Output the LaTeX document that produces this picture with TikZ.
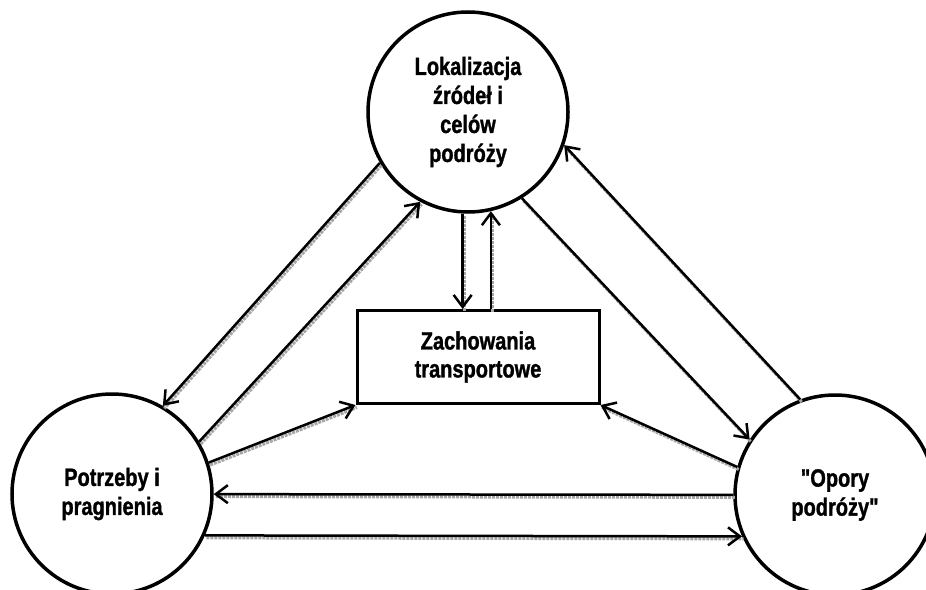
\documentclass[tikz,border=0pt]{standalone}
\usepackage{fontspec}
\newfontfamily\etyk{Liberation Sans Bold}[FakeStretch=0.8, FakeBold=1.2]
\usepackage{tikz}
\usetikzlibrary{arrows.meta}

\tikzset{
  krag/.style={draw, circle, line width=3.5pt, minimum size=200pt, inner sep=0pt,
    align=center, font=\etyk\fontsize{25}{29}\selectfont},
  prost/.style={draw, rectangle, line width=3pt, minimum width=242pt, minimum height=93pt,
    align=center, font=\etyk\fontsize{25}{28}\selectfont},
  strz/.style={line width=2.5pt, -{Straight Barb[length=12pt,width=18pt,line width=2.5pt]},
    preaction={draw, black!35, densely dotted, line width=3pt, -,
      transform canvas={xshift=1.5pt, yshift=-2.5pt}}}
}

\begin{document}
\begin{tikzpicture}[x=1pt, y=-1pt]
    \useasboundingbox (0,0) rectangle (926,589);

    \node[krag] (a1) at (468,112) {Lokalizacja\\źródeł i\\celów\\podróży};
    \node[krag] (a2) at (112,494) {Potrzeby i\\pragnienia};
    \node[krag] (a3) at (835,495) {"Opory\\podróży"};
    \node[prost] (a4) at (478,357) {Zachowania\\transportowe};

    \draw[strz] (a1.210) -- (a2.60);
    \draw[strz] (a2.31) -- (a1.242);
    \draw[strz] (a1.267) -- (a1.267 |- a4.north);
    \draw[strz] (a1.283 |- a4.north) -- (a1.283);
    \draw[strz] (a1.302) -- (a3.147);
    \draw[strz] (a3.110) -- (a1.341);
    \draw[strz] (a2.18) -- (a4.south west);
    \draw[strz] (a3.164) -- (a4.south east);
    \draw[strz] (a3) -- (a2);
    \draw[strz] (a2.-24) -- (a3.204);
  \end{tikzpicture}
\end{document}
